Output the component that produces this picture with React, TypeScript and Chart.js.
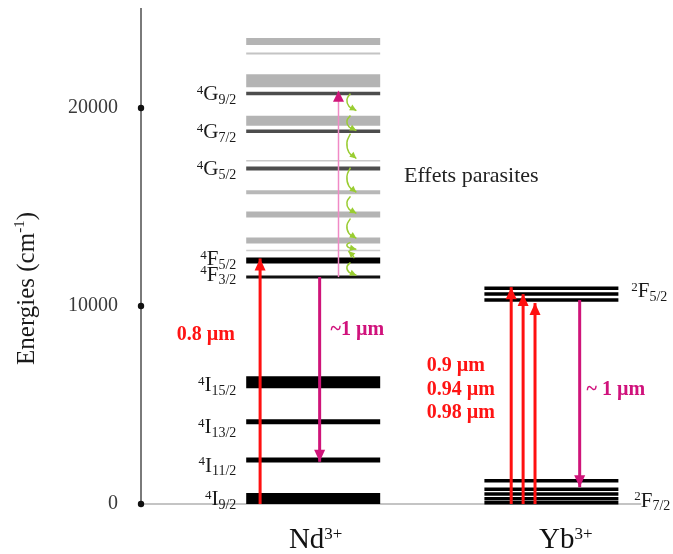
import React, { useEffect, useRef } from "react";
import { Chart, registerables } from "chart.js";

Chart.register(...registerables);

const SERIF = '"Liberation Serif", "Times New Roman", "DejaVu Serif", serif';

// ---------------- data ----------------
const yTicks = [0, 10000, 20000];
const energyMax = 25000;
const xMax = 532;

// horizontal extents (axis units) of the level columns
const ndSpan = [106, 241];
const ybSpan = [346, 481];
const baselineSpan = [0, 504];

// Nd3+ energy levels (cm-1)
const ndLevels = [23360, 22750, 21370, 20730, 19360, 18820, 17340, 16950, 15740, 14620, 13310, 12800, 12300, 11460, 6150, 4150, 2220, 280];
// Yb3+ Stark levels (cm-1)
const ybUpperLevels = [10900, 10600, 10300];
const ybLowerLevels = [1170, 750, 500, 270, 60];

// term labels
const ndTerms = ["4|G|9/2", "4|G|7/2", "4|G|5/2", "4|F|5/2", "4|F|3/2", "4|I|15/2", "4|I|13/2", "4|I|11/2", "4|I|9/2"];
const ndTermEnergies = [20730, 18820, 16950, 12300, 11460, 6150, 4150, 2220, 280];
const ybTerms = ["2|F|5/2", "2|F|7/2"];
const ybTermEnergies = [10600, 60];
const ndTermLabelX = 96;
const ybTermLabelX = [494, 497];

// transitions
const ndPumpX = 120;
const ndPumpEnergy = [0, 12400];
const ndEmissionX = 180;
const ndEmissionEnergy = [11460, 2140];
const ndUpX = 199;
const ndUpEnergy = [11460, 20870];
const ybPumpX = [373, 385, 397];
const ybPumpTop = [10950, 10600, 10150];
const ybEmissionX = 442;
const ybEmissionEnergy = [10300, 850];
// non-radiative relaxation ("effets parasites") steps
const relaxFrom = [20730, 19620, 18700, 16990, 15540, 14420, 13220, 12420, 12200];
const relaxTo = [19870, 18860, 17450, 15740, 14680, 13420, 12860, 12770, 11550];

// captions
const captions = ["0.8 µm", "~1 µm", "0.9 µm", "0.94 µm", "0.98 µm", "~ 1 µm", "Effets parasites"];
const captionX = [36, 191, 288, 288, 288, 449, 265];
const captionEnergy = [8540, 8790, 6970, 5760, 4590, 5760, 16530];

const ions = ["Nd", "Yb"];
const ionCharge = "3+";
const ionX = [176, 428];
const ionBaselineEnergy = -2220;

// ---------------- styles ----------------
const ndLevelWeights = [7, 2, 13, 3.5, 10, 3.5, 1.5, 4, 4, 6, 6, 1.5, 6, 3, 12, 5, 5, 11];
const ndLevelShades = ["#b4b4b4", "#c4c4c4", "#b4b4b4", "#4d4d4d", "#b4b4b4", "#4d4d4d", "#c8c8c8", "#4d4d4d", "#b8b8b8", "#b4b4b4", "#b4b4b4", "#cccccc", "#000", "#111", "#000", "#000", "#000", "#000"];
const ndTermNudge = [0, 0, 0, -2, -3, 2, 4.5, 5, 0];
const ybTermNudge = [-4, -3];
const captionColors = ["#ff1414", "#d0127c", "#ff1414", "#ff1414", "#ff1414", "#d0127c", "#222"];
const captionBold = [true, true, true, true, true, true, false];
const RED = "#ff1010";
const MAGENTA = "#cf1479";
const PINK = "#f08ac6";
const GREEN = "#9acd32";

function seg(x0: number, x1: number, y0: number, y1: number) {
  return [{ x: x0, y: y0 }, { x: x1, y: y1 }];
}

function buildDatasets() {
  const ds: any[] = [];
  ds.push({
    data: seg(baselineSpan[0], baselineSpan[1], 0, 0),
    borderColor: "#b0b0b0",
    borderWidth: 1.5,
    order: 20,
  });
  ndLevels.forEach((e, i) => {
    ds.push({
      data: seg(ndSpan[0], ndSpan[1], e, e),
      borderColor: ndLevelShades[i],
      borderWidth: ndLevelWeights[i],
      order: 10,
    });
  });
  [...ybUpperLevels, ...ybLowerLevels].forEach((e) => {
    ds.push({
      data: seg(ybSpan[0], ybSpan[1], e, e),
      borderColor: "#000",
      borderWidth: 3.5,
      order: 10,
    });
  });
  // transitions
  ds.push({
    data: seg(ndUpX, ndUpX, ndUpEnergy[0], ndUpEnergy[1]),
    borderColor: PINK,
    borderWidth: 1.5,
    order: 5,
    arrowHead: { color: MAGENTA, len: 11, w: 11 },
  });
  ds.push({
    data: seg(ndPumpX, ndPumpX, ndPumpEnergy[0], ndPumpEnergy[1]),
    borderColor: RED,
    borderWidth: 3,
    order: 4,
    arrowHead: { color: RED, len: 12, w: 11 },
  });
  ds.push({
    data: seg(ndEmissionX, ndEmissionX, ndEmissionEnergy[0], ndEmissionEnergy[1]),
    borderColor: MAGENTA,
    borderWidth: 3,
    order: 4,
    arrowHead: { color: MAGENTA, len: 12, w: 11 },
  });
  ybPumpX.forEach((x, i) => {
    ds.push({
      data: seg(x, x, 0, ybPumpTop[i]),
      borderColor: RED,
      borderWidth: 3,
      order: 4,
      arrowHead: { color: RED, len: 12, w: 11 },
    });
  });
  ds.push({
    data: seg(ybEmissionX, ybEmissionX, ybEmissionEnergy[0], ybEmissionEnergy[1]),
    borderColor: MAGENTA,
    borderWidth: 3,
    order: 4,
    arrowHead: { color: MAGENTA, len: 12, w: 11 },
  });
  relaxFrom.forEach((e0, i) => {
    const e1 = relaxTo[i];
    const d = e1 - e0;
    const up = d > 0;
    const pts = up
      ? [
          { x: 215, y: e0 },
          { x: 213, y: e0 + d * 0.45 },
          { x: 209, y: e1 },
        ]
      : [
          { x: 211, y: e0 },
          { x: 207.5, y: e0 + d * 0.35 },
          { x: 209.5, y: e0 + d * 0.75 },
          { x: 217, y: e1 },
        ];
    ds.push({
      data: pts,
      borderColor: GREEN,
      borderWidth: 1.5,
      tension: 0.45,
      order: 3,
      arrowHead: { color: GREEN, len: 6.5, w: 6.5 },
    });
  });
  ds.push({
    data: yTicks.map((v) => ({ x: 0, y: v })),
    showLine: false,
    pointRadius: 3.2,
    pointBackgroundColor: "#111",
    pointBorderWidth: 0,
    order: 0,
  });
  return ds.map((d) => ({
    pointRadius: 0,
    borderCapStyle: "butt",
    clip: false,
    fill: false,
    ...d,
  }));
}

function drawTerm(ctx: CanvasRenderingContext2D, term: string, x: number, yc: number, align: "left" | "right") {
  const [sup, main, sub] = term.split("|");
  const fMain = `21px ${SERIF}`;
  const fSup = `13px ${SERIF}`;
  const fSub = `14px ${SERIF}`;
  ctx.font = fSup;
  const wSup = ctx.measureText(sup).width;
  ctx.font = fMain;
  const wMain = ctx.measureText(main).width;
  ctx.font = fSub;
  const wSub = ctx.measureText(sub).width;
  const total = wSup + wMain + wSub;
  const x0 = align === "right" ? x - total : x;
  const base = yc + 6.9;
  ctx.textAlign = "left";
  ctx.textBaseline = "alphabetic";
  ctx.fillStyle = "#1a1a1a";
  ctx.font = fSup;
  ctx.fillText(sup, x0, base - 6.5);
  ctx.font = fMain;
  ctx.fillText(main, x0 + wSup, base);
  ctx.font = fSub;
  ctx.fillText(sub, x0 + wSup + wMain, base + 3.5);
}

const annotate = {
  id: "annotate",
  afterDatasetsDraw(chart: any) {
    const ctx: CanvasRenderingContext2D = chart.ctx;
    const xs = chart.scales.x;
    const ys = chart.scales.y;
    ctx.save();
    // arrow heads
    chart.data.datasets.forEach((ds: any, i: number) => {
      const head = ds.arrowHead;
      if (!head) return;
      const pts = chart.getDatasetMeta(i).data;
      const n = pts.length;
      const tip = pts[n - 1];
      const prev = pts[n - 2];
      let dx = tip.x - prev.x;
      let dy = tip.y - prev.y;
      const L = Math.hypot(dx, dy) || 1;
      dx /= L;
      dy /= L;
      const bx = tip.x - dx * head.len;
      const by = tip.y - dy * head.len;
      const px = -dy;
      const py = dx;
      ctx.fillStyle = head.color;
      ctx.beginPath();
      ctx.moveTo(tip.x, tip.y);
      ctx.lineTo(bx + (px * head.w) / 2, by + (py * head.w) / 2);
      ctx.lineTo(bx - (px * head.w) / 2, by - (py * head.w) / 2);
      ctx.closePath();
      ctx.fill();
    });
    // term labels
    ndTerms.forEach((t, i) => {
      drawTerm(ctx, t, xs.getPixelForValue(ndTermLabelX), ys.getPixelForValue(ndTermEnergies[i]) + ndTermNudge[i], "right");
    });
    ybTerms.forEach((t, i) => {
      drawTerm(ctx, t, xs.getPixelForValue(ybTermLabelX[i]), ys.getPixelForValue(ybTermEnergies[i]) + ybTermNudge[i], "left");
    });
    // captions
    captions.forEach((c, i) => {
      ctx.font = `${captionBold[i] ? "bold " : ""}${captionBold[i] ? 20 : 22}px ${SERIF}`;
      ctx.fillStyle = captionColors[i];
      ctx.textAlign = "left";
      ctx.textBaseline = "middle";
      ctx.fillText(c, xs.getPixelForValue(captionX[i]), ys.getPixelForValue(captionEnergy[i]));
    });
    // ion names
    ions.forEach((name, i) => {
      ctx.textBaseline = "alphabetic";
      ctx.textAlign = "left";
      ctx.fillStyle = "#111";
      ctx.font = `29px ${SERIF}`;
      const wMain = ctx.measureText(name).width;
      ctx.font = `17px ${SERIF}`;
      const wSup = ctx.measureText(ionCharge).width;
      const cx = xs.getPixelForValue(ionX[i]);
      const base = ys.getPixelForValue(ionBaselineEnergy);
      const x0 = cx - (wMain + wSup) / 2;
      ctx.font = `29px ${SERIF}`;
      ctx.fillText(name, x0, base);
      ctx.font = `17px ${SERIF}`;
      ctx.fillText(ionCharge, x0 + wMain, base - 9);
    });
    // y axis title
    const a = chart.chartArea;
    ctx.translate(27, (a.top + a.bottom) / 2 + 32);
    ctx.rotate(-Math.PI / 2);
    const p1 = "Energies (cm";
    const p2 = "-1";
    const p3 = ")";
    ctx.fillStyle = "#1a1a1a";
    ctx.font = `25px ${SERIF}`;
    const w1 = ctx.measureText(p1).width;
    const w3 = ctx.measureText(p3).width;
    ctx.font = `15px ${SERIF}`;
    const w2 = ctx.measureText(p2).width;
    const tot = w1 + w2 + w3;
    let x = -tot / 2;
    ctx.textBaseline = "middle";
    ctx.font = `25px ${SERIF}`;
    ctx.fillText(p1, x, 0);
    x += w1;
    ctx.font = `15px ${SERIF}`;
    ctx.fillText(p2, x, -7);
    x += w2;
    ctx.font = `25px ${SERIF}`;
    ctx.fillText(p3, x, 0);
    ctx.restore();
  },
};

export default function App() {
  const ref = useRef<HTMLCanvasElement | null>(null);
  useEffect(() => {
    if (!ref.current) return;
    const chart = new Chart(ref.current, {
      type: "line",
      data: { datasets: buildDatasets() as any },
      options: {
        animation: false,
        responsive: false,
        maintainAspectRatio: false,
        events: [],
        layout: { padding: { top: 9, bottom: 50, left: 0, right: 0 } },
        plugins: { legend: { display: false }, tooltip: { enabled: false } },
        scales: {
          x: { type: "linear", min: 0, max: xMax, display: false },
          y: {
            type: "linear",
            min: 0,
            max: energyMax,
            position: "left",
            afterBuildTicks: (s: any) => {
              s.ticks = yTicks.map((v) => ({ value: v }));
            },
            afterFit: (s: any) => {
              s.width = 141;
              s.paddingTop = 0;
              s.paddingBottom = 0;
            },
            ticks: {
              font: { family: SERIF, size: 20 },
              color: "#3a3a3a",
              padding: 23,
              callback: (v: any) => String(v),
            },
            grid: { display: false, drawTicks: false },
            border: { display: true, color: "#7a7a7a", width: 2 },
          },
        },
      },
      plugins: [annotate],
    } as any);
    return () => chart.destroy();
  }, []);
  return (
    <div style={{ position: "fixed", left: 0, top: 0, width: 673, height: 554, background: "#fff" }}>
      <canvas ref={ref} width={673} height={554} style={{ display: "block" }} />
    </div>
  );
}
